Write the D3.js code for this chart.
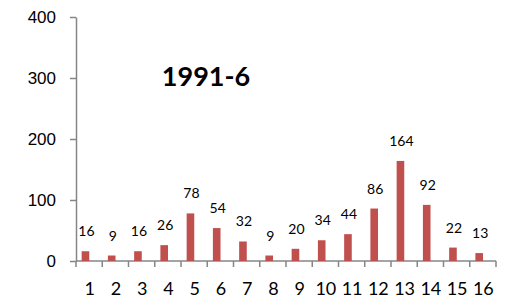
<!DOCTYPE html>
<html lang="en">
<head>
<meta charset="utf-8">
<script src="https://d3js.org/d3.v7.min.js"></script>
<style>
  body { margin: 0; background: #fff; }
  svg { display: block; font-family: Lato, "Open Sans", sans-serif; }
  .axis path, .axis line { stroke: #868686; stroke-width: 1.5px; }
  .axis text { fill: #000; }
</style>
</head>
<body>
<script>
const categories = ["1","2","3","4","5","6","7","8","9","10","11","12","13","14","15","16"];
const values = [16, 9, 16, 26, 78, 54, 32, 9, 20, 34, 44, 86, 164, 92, 22, 13];
const yTicks = [0, 100, 200, 300, 400];
const title = "1991-6";

const w = 508, h = 299;
const plotLeft = 76, plotRight = 496, plotTop = 17, plotBottom = 261;

const svg = d3.select("body").append("svg")
  .attr("width", w).attr("height", h);

const x = d3.scaleBand().domain(categories).range([plotLeft, plotRight]);
const y = d3.scaleLinear().domain([0, 400]).range([plotBottom, plotTop]);

// y axis
svg.append("g")
  .attr("class", "axis")
  .attr("transform", "translate(" + plotLeft + ",0)")
  .call(d3.axisLeft(y).tickValues(yTicks).tickSize(6).tickSizeOuter(0).tickPadding(14))
  .selectAll("text").style("font-size", "17px");

// x axis, ticks at category boundaries
const xg = svg.append("g")
  .attr("class", "axis")
  .attr("transform", "translate(0," + plotBottom + ")");
xg.append("line").attr("x1", plotLeft).attr("x2", plotRight);
xg.selectAll(".tk").data(categories.concat([null])).join("line")
  .attr("class", "tk")
  .attr("x1", (d, i) => plotLeft + i * x.bandwidth())
  .attr("x2", (d, i) => plotLeft + i * x.bandwidth())
  .attr("y1", 0).attr("y2", 6);
xg.selectAll("text").data(categories).join("text")
  .attr("x", d => x(d) + x.bandwidth() / 2 + 0.5)
  .attr("y", 34)
  .attr("text-anchor", "middle")
  .style("font-size", "18px")
  .text(d => d);

// bars
const barOff = x.bandwidth() * 0.215, barW = x.bandwidth() * 0.29;
svg.selectAll(".bar").data(values).join("rect")
  .attr("class", "bar")
  .attr("x", (d, i) => x(categories[i]) + barOff)
  .attr("width", barW)
  .attr("y", d => y(d))
  .attr("height", d => plotBottom - y(d))
  .attr("fill", "#C0504D");

// value labels
svg.selectAll(".lbl").data(values).join("text")
  .attr("class", "lbl")
  .attr("x", (d, i) => x(categories[i]) + barOff + barW / 2 + 1)
  .attr("y", d => y(d) - 15)
  .attr("text-anchor", "middle")
  .style("font-size", "14px")
  .text(d => d);

svg.append("text")
  .attr("x", 206).attr("y", 86)
  .attr("text-anchor", "middle")
  .style("font-size", "27px").style("font-weight", "bold")
  .text(title);
</script>
</body>
</html>
